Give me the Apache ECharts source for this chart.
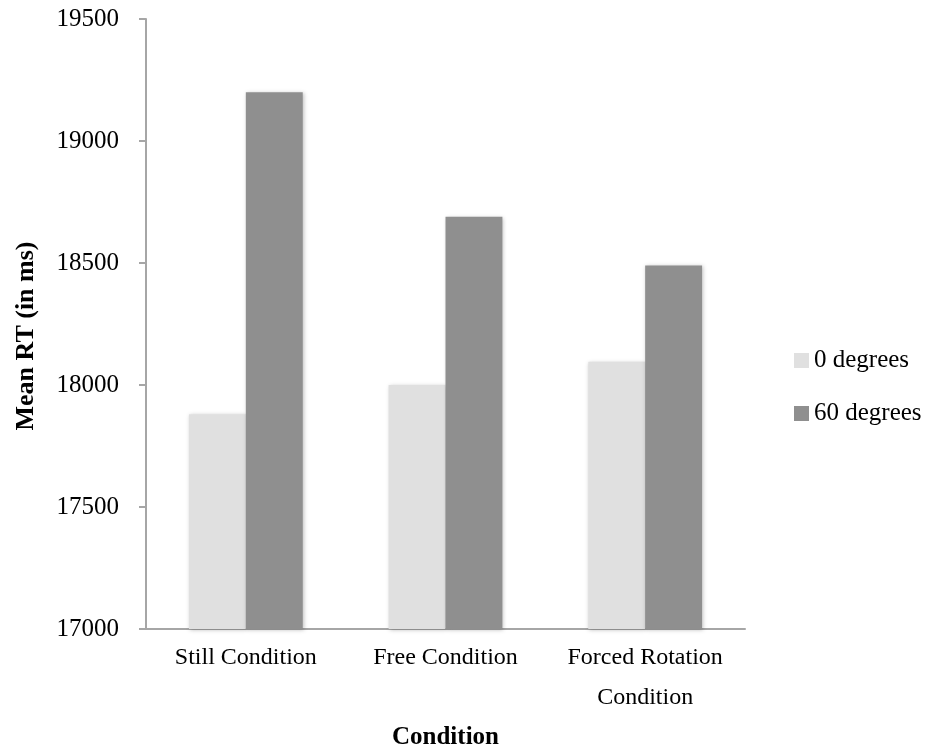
<!DOCTYPE html>
<html>
<head>
<meta charset="utf-8">
<script src="https://cdn.jsdelivr.net/npm/echarts@6/dist/echarts.min.js"></script>
<style>html,body{margin:0;padding:0;background:#fff}#c{width:943px;height:755px}</style>
</head>
<body>
<div id="c"></div>
<script>
var categories = ['Still Condition', 'Free Condition', 'Forced Rotation\nCondition'];
var seriesNames = ['0 degrees', '60 degrees'];
var deg0 = [17880, 18000, 18095];
var deg60 = [19200, 18690, 18490];
var yTicks = [17000, 17500, 18000, 18500, 19000, 19500];

var font = 'Liberation Serif';
var chart = echarts.init(document.getElementById('c'));
var barStyle = function (c) {
  return { color: c, shadowBlur: 4, shadowColor: 'rgba(0,0,0,0.25)', shadowOffsetX: 1, shadowOffsetY: 1 };
};
chart.setOption({
  animation: false,
  textStyle: { fontFamily: font },
  grid: { left: 146, right: 198, top: 19, bottom: 125 },
  legend: {
    orient: 'vertical', left: 794, top: 348, padding: 0,
    icon: 'rect', itemWidth: 15, itemHeight: 15, itemGap: 28,
    textStyle: { fontFamily: font, fontSize: 25, color: '#000' },
    data: seriesNames
  },
  xAxis: {
    type: 'category', data: categories,
    name: 'Condition', nameLocation: 'middle', nameGap: 96,
    nameTextStyle: { fontFamily: font, fontSize: 25, fontWeight: 'bold', color: '#000' },
    axisLine: { lineStyle: { color: '#a6a6a6', width: 2 } },
    axisTick: { length: 8, lineStyle: { color: '#a6a6a6', width: 2 } },
    axisLabel: { interval: 0, hideOverlap: false, fontFamily: font, fontSize: 24, color: '#000', margin: 9, lineHeight: 40 }
  },
  yAxis: {
    type: 'value', min: yTicks[0], max: yTicks[yTicks.length - 1], interval: 500,
    name: 'Mean RT (in ms)', nameLocation: 'middle', nameGap: 107, nameRotate: 90,
    nameTextStyle: { fontFamily: font, fontSize: 26, fontWeight: 'bold', color: '#000', padding: [0, 24, 0, 0] },
    axisLine: { show: true, lineStyle: { color: '#a6a6a6', width: 2 } },
    axisTick: { show: true, length: 7, lineStyle: { color: '#a6a6a6', width: 2 } },
    splitLine: { show: false },
    axisLabel: { fontFamily: font, fontSize: 25, color: '#000', margin: 27, formatter: function (v) { return String(v); } }
  },
  series: [
    { name: seriesNames[0], type: 'bar', data: deg0, barGap: '0%', barCategoryGap: '43%', itemStyle: barStyle('#e0e0e0') },
    { name: seriesNames[1], type: 'bar', data: deg60, barGap: '0%', barCategoryGap: '43%', itemStyle: barStyle('#8f8f8f') }
  ]
});
</script>
</body>
</html>
